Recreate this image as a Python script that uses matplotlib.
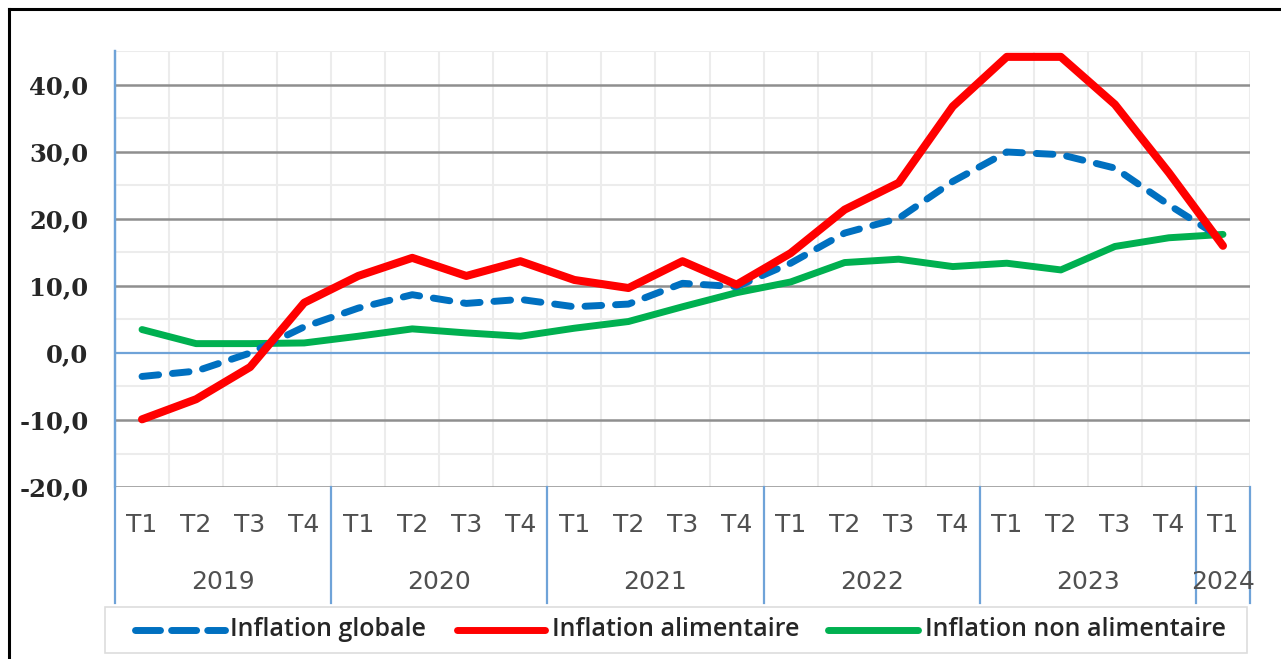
import matplotlib.pyplot as plt
import matplotlib.transforms as mtransforms
from matplotlib.lines import Line2D
from matplotlib.patches import Rectangle

# trimestres 2019 T1 -> 2024 T1
annees = ['2019', '2020', '2021', '2022', '2023', '2024']
trimestres = ['T1', 'T2', 'T3', 'T4'] * 5 + ['T1']

inflation_globale = [-3.5, -2.7, 0.0, 3.9, 6.7, 8.7, 7.4, 8.0, 6.9, 7.3, 10.4,
                     9.9, 13.4, 17.9, 20.1, 25.6, 30.0, 29.6, 27.6, 22.1, 17.0]
inflation_alimentaire = [-9.9, -6.9, -2.1, 7.5, 11.5, 14.2, 11.5, 13.7, 10.9, 9.7, 13.7,
                         10.2, 14.9, 21.4, 25.4, 36.8, 44.2, 44.2, 37.1, 26.9, 16.0]
inflation_non_alim = [3.5, 1.4, 1.4, 1.5, 2.5, 3.6, 3.0, 2.5, 3.7, 4.7, 6.9,
                      9.0, 10.6, 13.5, 14.0, 12.9, 13.4, 12.4, 15.9, 17.2, 17.7]

W, H = 1281, 659
fig = plt.figure(figsize=(W / 100, H / 100), dpi=100)
ax = fig.add_axes([115 / W, 1 - 487 / H, (1250 - 115) / W, (487 - 51.5) / H])

n = len(trimestres)
x = list(range(n))
ax.set_xlim(-0.5, n - 0.5)
ax.set_ylim(-20, 45)

# grille
for v in range(-15, 46, 10):
    ax.axhline(v, color='#ececec', lw=1.5, zorder=0)
for v in range(-20, 41, 10):
    if v == 0:
        ax.axhline(v, color='#6fa3d8', lw=1.6, zorder=1)
    else:
        ax.axhline(v, color='#8f8f8f', lw=1.8, zorder=1)
for b in range(n):
    ax.axvline(b + 0.5, color='#ececec', lw=1.5, zorder=0)

for s in ['top', 'right', 'bottom']:
    ax.spines[s].set_visible(False)
ax.spines['left'].set_color('#6fa3d8')
ax.spines['left'].set_linewidth(1.6)

ax.set_xticks([])
yt = list(range(-20, 41, 10))
ax.set_yticks(yt)
ax.set_yticklabels([f"{v:.1f}".replace('.', ',') for v in yt],
                   fontfamily='DejaVu Serif', fontweight='bold', fontsize=17.5, color='#262626')
ax.tick_params(axis='y', length=0, pad=19)

# courbes
ax.plot(x, inflation_non_alim, color='#00b050', lw=5, solid_joinstyle='round',
        solid_capstyle='round', zorder=3)
ax.plot(x, inflation_globale, color='#0070c0', lw=5, dashes=(2.4, 2.0),
        dash_capstyle='round', dash_joinstyle='round', zorder=4)
ax.plot(x, inflation_alimentaire, color='#ff0000', lw=5.8, solid_joinstyle='round',
        solid_capstyle='round', zorder=5)

# axe des categories sur deux niveaux
trans = mtransforms.blended_transform_factory(ax.transData, ax.transAxes)
y_bas = -(603 - 487) / 435.5
ax.plot([-0.5, -0.5], [y_bas, 1], transform=trans, color='#6fa3d8', lw=1.6, clip_on=False)
for b in [3.5, 7.5, 11.5, 15.5, 19.5, 20.5]:
    ax.plot([b, b], [y_bas, 0], transform=trans, color='#6fa3d8', lw=1.6, clip_on=False)
for i, t in enumerate(trimestres):
    ax.text(i, -(525 - 487) / 435.5, t, transform=trans, ha='center', va='center',
            fontsize=18, color='#505050', fontfamily='DejaVu Sans')
for k, a in enumerate(annees):
    cx = 20 if a == '2024' else 4 * k + 1.5
    ax.text(cx, -(582 - 487) / 435.5, a, transform=trans, ha='center', va='center',
            fontsize=18, color='#505050', fontfamily='DejaVu Sans')

# legende
fig.add_artist(Rectangle((105 / W, 1 - 653 / H), (1247 - 105) / W, 46 / H,
                         transform=fig.transFigure, fill=False, ec='#dddddd', lw=1.2))
yl = 1 - 630 / H
entrees = [
    (135, 225, 230, 'Inflation globale', '#0070c0', True),
    (457, 545, 552, 'Inflation alimentaire', '#ff0000', False),
    (828, 918, 925, 'Inflation non alimentaire', '#00b050', False),
]
for x0, x1, xt, lab, col, tiret in entrees:
    ln = Line2D([x0 / W, x1 / W], [yl, yl], transform=fig.transFigure, color=col, lw=5,
                solid_capstyle='round')
    if tiret:
        ln.set_dashes((3.6, 1.6))
        ln.set_dash_capstyle('round')
    fig.add_artist(ln)
    fig.text(xt / W, yl, lab, ha='left', va='center', fontsize=18, color='#262626',
             fontfamily='Open Sans', fontweight='semibold')

# cadre
fig.add_artist(Line2D([9 / W, 9 / W], [0, 1 - 9 / H], transform=fig.transFigure,
                      color='black', lw=2.2))
fig.add_artist(Line2D([9 / W, 1], [1 - 9 / H, 1 - 9 / H], transform=fig.transFigure,
                      color='black', lw=2.2))

fig.savefig('out.png', dpi=100)
